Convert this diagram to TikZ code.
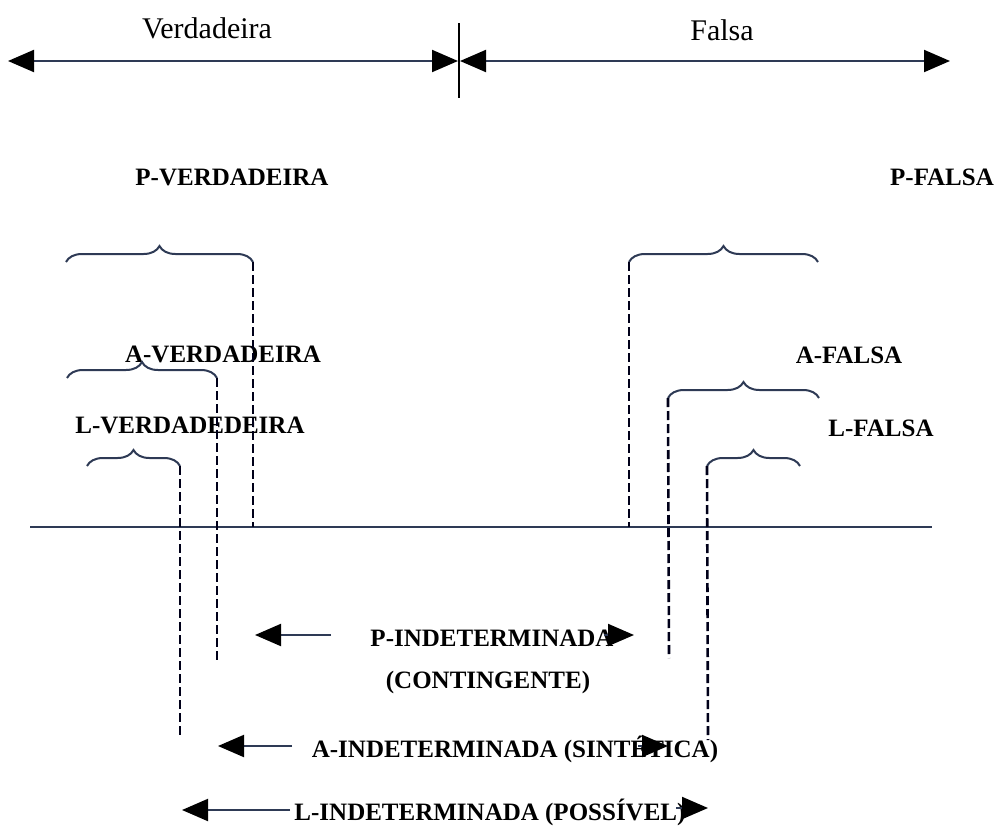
\documentclass[tikz,border=0pt]{standalone}
\usepackage{fontspec}
\setmainfont{Liberation Serif}
\usetikzlibrary{arrows.meta,decorations.pathreplacing}
\definecolor{slate}{HTML}{2E3A55}
\begin{document}
\begin{tikzpicture}[x=1pt,y=-1pt]
  %
  \tikzstyle{lbl} = [font=\fontsize{30}{34}\selectfont, inner sep=0pt]
  \tikzstyle{tag} = [font=\fontsize{25}{29}\selectfont\bfseries, inner sep=0pt]
  \tikzstyle{ln} = [line width=2pt, slate]
  \tikzstyle{dsh} = [line width=2.6pt, black!90!blue, dash pattern=on 9pt off 4pt]
  \tikzstyle{brc} = [line width=2pt, slate, decorate, decoration={brace, amplitude=16pt}]
  \tikzstyle{arr} = [line width=2pt, slate, -{Triangle[length=26pt,width=22pt,color=black]}]
  \tikzstyle{darr} = [line width=2pt, slate, {Triangle[length=26pt,width=22pt,color=black]}-{Triangle[length=26pt,width=22pt,color=black]}]
  \useasboundingbox (0,0) rectangle (997,835);
  % top scale
  \node[lbl] (verd) at (207,28) {Verdadeira};
  \node[lbl] (fals) at (722,30) {Falsa};
  \coordinate (mtop) at (459,23);
  \coordinate (mbot) at (459,98);
  \draw[line width=1.6pt] (mtop) -- (mbot);
  \coordinate (vl) at (8,61);
  \coordinate (vr) at (458,61);
  \coordinate (fl) at (460,61);
  \coordinate (fr) at (950,61);
  \draw[darr] (vl) -- (vr);
  \draw[darr] (fl) -- (fr);
  % labels
  \node[tag] (pv) at (232,177) {P-VERDADEIRA};
  \node[tag] (pf) at (942,177) {P-FALSA};
  \node[tag] (av) at (223,354) {A-VERDADEIRA};
  \node[tag] (lv) at (190,425) {L-VERDADEDEIRA};
  \node[tag] (af) at (849,355) {A-FALSA};
  \node[tag] (lf) at (881,428) {L-FALSA};
  % base line
  \coordinate (bl) at (30,527);
  \coordinate (br) at (932,527);
  \draw[ln] (bl) -- (br);
  % braces, left
  \coordinate (pva) at (66,262);  \coordinate (pvb) at (253,262);
  \coordinate (ava) at (67,378);  \coordinate (avb) at (217,378);
  \coordinate (lva) at (87,466);  \coordinate (lvb) at (180,466);
  \draw[brc] (pva) -- (pvb);
  \draw[brc] (ava) -- (avb);
  \draw[brc] (lva) -- (lvb);
  % braces, right
  \coordinate (pfa) at (629,262); \coordinate (pfb) at (818,262);
  \coordinate (afa) at (668,398); \coordinate (afb) at (819,398);
  \coordinate (lfa) at (707,466); \coordinate (lfb) at (800,466);
  \draw[brc] (pfa) -- (pfb);
  \draw[brc] (afa) -- (afb);
  \draw[brc] (lfa) -- (lfb);
  % dashed drops
  \coordinate (pvd) at (253,527);
  \coordinate (avd) at (217,662);
  \coordinate (lvd) at (180,738);
  \coordinate (pfd) at (629,527);
  \coordinate (afd) at (669,658);
  \coordinate (lfd) at (708,740);
  \draw[dsh] (pvb) -- (pvd);
  \draw[dsh] (avb) -- (avd);
  \draw[dsh] (lvb) -- (lvd);
  \draw[dsh] (pfa) -- (pfd);
  \draw[dsh] (afa) -- (afd);
  \draw[dsh] (lfa) -- (lfd);
  % indeterminate
  \node[tag] (pi) at (492,638) {P-INDETERMINADA};
  \node[tag] (pc) at (488,682) {(CONTINGENTE)};
  \node[tag] (ai) at (515,749) {A-INDETERMINADA (SINTÉTICA)};
  \node[tag] (li) at (490,812) {L-INDETERMINADA (POSSÍVEL)};
  \coordinate (pia) at (331,635); \coordinate (pib) at (255,635);
  \coordinate (pic) at (604,635); \coordinate (pid) at (634,635);
  \coordinate (aia) at (292,746); \coordinate (aib) at (218,746);
  \coordinate (aic) at (638,746); \coordinate (aid) at (668,746);
  \coordinate (lia) at (290,810); \coordinate (lib) at (182,810);
  \coordinate (lic) at (676,808); \coordinate (lid) at (708,808);
  \draw[arr] (pia) -- (pib);
  \draw[arr] (pic) -- (pid);
  \draw[arr] (aia) -- (aib);
  \draw[arr] (aic) -- (aid);
  \draw[arr] (lia) -- (lib);
  \draw[arr] (lic) -- (lid);
\end{tikzpicture}
\end{document}
